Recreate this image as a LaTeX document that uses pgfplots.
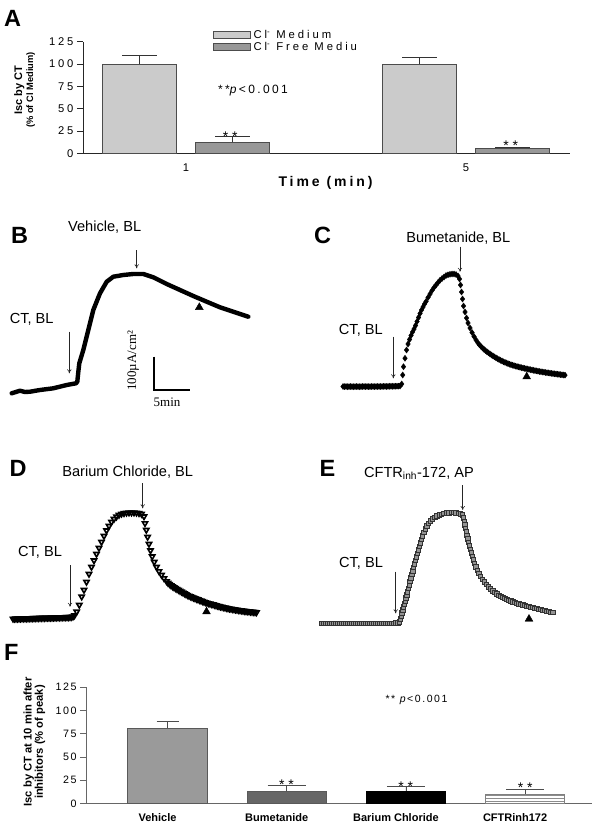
\documentclass[border=0pt]{standalone}
\usepackage{fontspec}
\setmainfont{Liberation Sans}
\newfontfamily\serifft{Liberation Serif}
\usepackage{pgfplots}
\pgfplotsset{compat=1.18}
\usetikzlibrary{patterns,arrows.meta}
\definecolor{ga}{HTML}{CBCBCB}
\definecolor{gb}{HTML}{989898}
\definecolor{gv}{HTML}{9A9A9A}
\definecolor{gbu}{HTML}{666666}
\newcommand\lbl{\fontsize{14.6}{16}\selectfont}
\newcommand\pl{\fontsize{23.5}{25}\selectfont\bfseries}
\pgfplotsset{
  errA/.style={error bars/.cd, y dir=plus, y explicit, error bar style={line width=0.8pt, black!80}, error mark options={rotate=90, mark size=17.5pt, line width=0.8pt, black!80}},
  errF/.style={error bars/.cd, y dir=plus, y explicit, error bar style={line width=0.8pt, black!70}, error mark options={rotate=90, mark size=#1, line width=0.8pt, black!70}},
}
\begin{document}
\begin{tikzpicture}[x=1pt,y=1pt]
% ---------------- Panel A ----------------
\begin{axis}[
  at={(83.3pt,675.7pt)}, anchor=south west, scale only axis,
  width=486.7pt, height=111.6pt,
  xmin=0.6332, xmax=2.371, ymin=0, ymax=125,
  axis lines=left, axis line style={-, line width=0.9pt, black!85},
  xtick={1,2}, xticklabels={1,5}, ytick={0,25,50,75,100,125},
  tick align=outside, major tick length=6.5pt,
  x tick style={draw=none}, y tick style={line width=0.8pt, black!85},
  yticklabel style={font=\fontsize{11.2}{13}\selectfont\addfontfeature{LetterSpace=24}},
  xticklabel style={font=\fontsize{11.2}{13}\selectfont},
  /pgf/number format/assume math mode=true,
  xlabel={Time (min)},
  xlabel style={font=\fontsize{14}{16}\selectfont\bfseries\addfontfeature{LetterSpace=21}, at={(axis description cs:0.4977,-0.266)}, anchor=center},
  ylabel={{\fontsize{11}{11}\selectfont\bfseries Isc by CT}\\{\fontsize{9.3}{11}\selectfont\bfseries (\% of Cl Medium)}},
  ylabel style={at={(axis description cs:-0.1208,0.567)}, anchor=center, align=center, font=\fontsize{11}{11}\selectfont},
  clip=false,
  legend style={at={(axis cs:1.0957,138.5)}, anchor=north west, draw=none, fill=none, inner sep=0pt, outer sep=0pt, row sep=1.2pt, column sep=2pt, font=\fontsize{11.3}{12.5}\selectfont\addfontfeature{LetterSpace=26}, nodes={inner sep=0.5pt}},
  legend cell align=left,
  legend image code/.code={\draw[#1,line width=0.8pt] (0pt,-3.8pt) rectangle (37.4pt,3.8pt);},
]
\addplot[ybar, bar width=0.2643, bar shift=0, fill=ga, draw=black!70, line width=0.8pt, errA]
  coordinates {(0.834,100) +- (0,9.5)};
\addlegendentry{Cl\textsuperscript{-} Medium}
\addplot[ybar, bar width=0.2643, bar shift=0, fill=gb, draw=black!70, line width=0.8pt, errA]
  coordinates {(1.1668,12.3) +- (0,6.7)};
\addlegendentry{Cl\textsuperscript{-} Free Mediu}
\addplot[forget plot, ybar, bar width=0.2643, bar shift=0, fill=ga, draw=black!70, line width=0.8pt, errA]
  coordinates {(1.834,100) +- (0,7)};
\addplot[forget plot, ybar, bar width=0.2643, bar shift=0, fill=gb, draw=black!70, line width=0.8pt, errA]
  coordinates {(2.1668,5.6) +- (0,1.3)};
\end{axis}
% ---------------- Panel F ----------------
\begin{axis}[
  at={(86.5pt,25.5pt)}, anchor=south west, scale only axis,
  width=505.5pt, height=116.2pt,
  xmin=0.3205, xmax=4.561, ymin=0, ymax=125,
  axis lines=left, axis line style={-, line width=0.9pt, black!60},
  xtick={1,2,3,4}, xticklabels={Vehicle,Bumetanide,Barium Chloride,CFTRinh172},
  ytick={0,25,50,75,100,125},
  tick align=outside, major tick length=6.5pt,
  x tick style={draw=none}, y tick style={line width=0.8pt, black!60},
  yticklabel style={font=\fontsize{10.7}{13}\selectfont\addfontfeature{LetterSpace=14}},
  xticklabel style={font=\fontsize{11}{13}\selectfont\bfseries, xshift=-10pt},
  /pgf/number format/assume math mode=true,
  ylabel={Isc by CT at 10 min after\\inhibitors (\% of peak)},
  ylabel style={at={(axis description cs:-0.1032,0.529)}, anchor=center, align=center, font=\fontsize{11.2}{11.3}\selectfont\bfseries},
  clip=false,
]
\addplot[ybar, bar width=0.667, bar shift=0, fill=gv, draw=black!65, line width=0.8pt, errF=11pt]
  coordinates {(1,81) +- (0,7.5)};
\addplot[ybar, bar width=0.667, bar shift=0, fill=gbu, draw=black!65, line width=0.8pt, errF=19pt]
  coordinates {(2,13) +- (0,6.5)};
\addplot[ybar, bar width=0.667, bar shift=0, fill=black, draw=black, line width=0.8pt, errF=19pt]
  coordinates {(3,13.5) +- (0,4.5)};
\addplot[ybar, bar width=0.667, bar shift=0, pattern=horizontal lines, pattern color=black!45, draw=black!50, line width=0.8pt, errF=19pt]
  coordinates {(4,10) +- (0,5.7)};
\end{axis}
% ---------------- Traces B-E and annotations (pixel units) ----------------
\begin{axis}[
  at={(0pt,0pt)}, anchor=south west, scale only axis,
  width=599pt, height=829pt,
  xmin=0, xmax=599, ymin=0, ymax=829, y dir=reverse,
  hide axis, clip=false,
]
% B: vehicle
\addplot[black, line width=4.4pt, line join=round, line cap=round] coordinates {
(11.7,393.3)(20,390.7)(25,392)(30,391.7)(40,390)(53.3,388.3)(66.7,385)(76,383.3)(77.3,381.7)(78.3,372)(79.3,363.3)(83.3,350)(88.3,330)(93.3,310)(100,293.3)(106.7,281.7)(113.3,276.7)(123.3,275)(133.3,274)(143.3,274)(153.3,277.3)(166.7,284)(180,290)(193.3,296)(206.7,301.7)(220,307.3)(233.3,311.7)(248.3,316.7)};
% C: bumetanide (diamonds)
\addplot[only marks, mark=diamond*, mark size=3pt, black] coordinates {
(343,386.5)(344.5,386.6)(346,386.5)(347.5,386.7)(349,386.6)(350.5,386.5)(352,386.6)(353.5,386.7)(355,386.6)(356.5,386.5)(358,386.6)(359.5,386.7)(361,386.6)(362.5,386.5)(364,386.5)(365.5,386.6)(367,386.5)(368.5,386.6)(370,386.6)(371.5,386.5)(373,386.5)(374.5,386.6)(376,386.5)(377.5,386.5)(379,386.5)(380.5,386.5)(382,386.5)(383.5,386.4)(385,386.4)(386.5,386.5)(388,386.4)(389.5,386.3)(391,386.3)(392.5,386.3)(394,386.3)(395.5,386.2)(397,386.2)(398.5,386.1)(400,386)
(401.7,384)(402.7,375)(403.5,366.7)(405,358.3)(406.5,350)(408,344)(409.5,339.5)(411,335.5)(412.5,332)(414,329)(415.5,325.5)(417,321.5)(418.5,317.5)(420,313.5)(421.5,310)(423,307)(424.5,304)(426,301.5)(428,297.5)(430,294)(432,290.5)(434,287.5)(436,285)(438,282.5)(440,280.3)(442,278.5)(444,277)(446,275.5)(448,274.8)(450,274.3)(452,274)(454,274)(456,274.5)(458,276)(459.5,279)
(460.5,285)(461.5,292)(462.5,299)(463.5,306)(465,312)(466.5,318)(468,323)(470,328)(472,332.5)(474,336.5)(476,340)
(478,343)(479.5,344.9)(481,346.5)(482.5,348)(484,349.4)(485.5,350.6)(487,351.8)(488.5,352.9)(490,354)(491.5,355)(493,356)(494.5,356.9)(496,357.8)(497.5,358.7)(499,359.5)(500.5,360.3)(502,361)(503.5,361.8)(505,362.4)(506.5,363)(508,363.6)(509.5,364.2)(511,364.7)(512.5,365.2)(514,365.6)(515.5,366.1)(517,366.5)(518.5,366.9)(520,367.3)(521.5,367.7)(523,368)(524.5,368.4)(526,368.7)(527.5,369)(529,369.4)(530.5,369.7)(532,370)(533.5,370.3)(535,370.6)(536.5,370.9)(538,371.2)(539.5,371.5)(541,371.7)(542.5,372)(544,372.2)(545.5,372.5)(547,372.7)(548.5,372.9)(550,373.2)(551.5,373.4)(553,373.6)(554.5,373.8)(556,374)(557.5,374.2)(559,374.4)(560.5,374.6)(562,374.8)(563.5,375)(565,375.1)};
% D: barium chloride (open down-triangles)
\addplot[only marks, mark=triangle, mark size=3pt, mark options={rotate=180, draw=black, line width=1.6pt}] coordinates {
(13,618.8)(14.5,618.8)(16,618.7)(17.5,618.7)(19,618.6)(20.5,618.6)(22,618.5)(23.5,618.5)(25,618.5)(26.5,618.4)(28,618.4)(29.5,618.3)(31,618.3)(32.5,618.2)(34,618.2)(35.5,618.1)(37,618.1)(38.5,618.1)(40,618)(41.5,618)(43,617.9)(44.5,617.9)(46,617.8)(47.5,617.8)(49,617.8)(50.5,617.7)(52,617.7)(53.5,617.6)(55,617.6)(56.5,617.5)(58,617.5)(59.5,617.4)(61,617.4)(62.5,617.3)(64,617.3)(65.5,617.2)(67,617.2)(68.5,617.2)(70,617.1)(71.5,617)(73,616.6)(74.5,615.5)
(76.7,611.7)(79.3,605)(81.7,596.7)(84,590)(86.5,582)(89,574)(91.5,567)(94,560.5)(96.5,554)(99,548)(101.5,542)(104,536)(106.5,530.5)(109,526)(111.5,522)(114,519)(116.5,516.7)(119,515)(121.5,513.8)(124,513.2)(126.5,512.8)(129,512.6)(131.5,512.6)(134,512.6)(136.5,512.8)(139,513.2)(141.5,514)(144,516.5)
(145,523.3)(146.3,530)(147.6,537)(149,544)(150.5,550.5)(152.2,556.5)(154.2,562)(156.5,567)(159,571.3)(161.5,575)(164,578.3)(166.5,581.3)
(168,583)(169.5,584.1)(171,585.4)(172.5,586.4)(174,587.3)(175.5,588.2)(177,589.1)(178.5,590)(180,590.9)(181.5,591.7)(183,592.6)(184.5,593.5)(186,594.3)(187.5,595.1)(189,595.8)(190.5,596.5)(192,597.1)(193.5,597.7)(195,598.3)(196.5,598.9)(198,599.5)(199.5,600.1)(201,600.6)(202.5,601.2)(204,601.8)(205.5,602.3)(207,602.8)(208.5,603.3)(210,603.7)(211.5,604.1)(213,604.5)(214.5,604.9)(216,605.4)(217.5,605.8)(219,606.2)(220.5,606.6)(222,606.9)(223.5,607.3)(225,607.6)(226.5,608)(228,608.3)(229.5,608.6)(231,608.8)(232.5,609.1)(234,609.3)(235.5,609.6)(237,609.8)(238.5,610.1)(240,610.3)(241.5,610.5)(243,610.8)(244.5,611)(246,611.2)(247.5,611.3)(249,611.5)(250.5,611.7)(252,611.9)(253.5,612)(255,612.2)(256.5,612.4)};
% E: CFTRinh-172 (grey squares)
\addplot[only marks, mark=square*, mark size=2.2pt, mark options={fill=black!42, draw=black!80, line width=0.7pt}] coordinates {
(322,623.3)(324,623.5)(326,623.2)(328,623.4)(330,623.3)(332,623.5)(334,623.2)(336,623.4)(338,623.3)(340,623.2)(342,623.4)(344,623.3)(346,623.5)(348,623.3)(350,623.2)(352,623.4)(354,623.3)(356,623.3)(358,623.2)(360,623.4)(362,623.3)(364,623.2)(366,623.3)(368,623.2)(370,623.4)(372,623.3)(374,623.3)(376,623.2)(378,623.4)(380,623.3)(382,623.2)(384,623.3)(386,623.2)(388,623.3)(390,623.2)(392,623.1)(394,623.1)(396,623)(398,622.8)
(399.5,622)(400.5,619)(401.3,616)(402,613)(402.8,610)(403.6,607)(404.4,604)(405.2,601)(406,598)(406.8,595)(407.6,592)(408.4,588.5)(409.2,585)(410,581.5)(410.9,578)(411.8,574.5)(412.7,571)(413.6,567.5)(414.5,564)(415.4,560.5)(416.3,557)(417.2,553.5)(418.1,550)(419.1,546.5)(420.1,543)(421.2,539.5)(422.4,536)(423.7,532.5)(425.1,529)(426.7,526)(428.5,523.2)(430.5,520.8)(432.6,518.8)(434.8,517.2)(437,516)(439.3,515)(441.6,514.2)(444,513.5)(446.4,513)(448.8,512.7)(451.2,512.6)(453.6,512.6)(456,512.8)(458.4,513.2)(460.6,514)(462.5,515)
(463.5,518)(464.2,521.5)(464.9,525)(465.6,528.5)(466.3,532)(467,535.5)(467.8,539)(468.6,542.5)(469.4,546)(470.3,549.5)(471.3,553)(472.3,556.5)(473.4,560)(474.6,563.5)(475.9,567)(477.3,570.3)(478.9,573.5)(480.6,576.5)(482.4,579.3)(484.3,582)(486.3,584.5)(488.4,586.8)(490.6,589)
(493,591)(495,592.5)(497,593.9)(499,595.1)(501,596.2)(503,597.3)(505,598.3)(507,599.2)(509,600.1)(511,600.9)(513,601.7)(515,602.4)(517,603.1)(519,603.7)(521,604.4)(523,605)(525,605.6)(527,606.1)(529,606.6)(531,607.1)(533,607.6)(535,608.1)(537,608.6)(539,609.1)(541,609.6)(543,610.1)(545,610.6)(547,611.1)(549,611.6)(551,612.1)(553,612.6)};
% 10-min markers
\addplot[only marks, mark=triangle*, mark size=4.5pt, black] coordinates {(199.3,307.3)(526.7,376.7)(206.5,611.7)(529,619)};
% scale bar
\addplot[black, line width=1.5pt] coordinates {(154,356.7)(154,390)(190,390)};
% arrows
\draw[-{To[length=4pt,width=4.5pt]}, line width=0.6pt, black!85] (axis cs:136.7,250) -- (axis cs:136.7,268.3);
\draw[-{To[length=4pt,width=4.5pt]}, line width=0.6pt, black!85] (axis cs:69.3,331.7) -- (axis cs:69.3,373.3);
\draw[-{To[length=4pt,width=4.5pt]}, line width=0.6pt, black!85] (axis cs:460,246.7) -- (axis cs:460,271.7);
\draw[-{To[length=4pt,width=4.5pt]}, line width=0.6pt, black!85] (axis cs:393.3,336.7) -- (axis cs:393.3,378.3);
\draw[-{To[length=4pt,width=4.5pt]}, line width=0.6pt, black!85] (axis cs:142.7,483.3) -- (axis cs:142.7,508.3);
\draw[-{To[length=4pt,width=4.5pt]}, line width=0.6pt, black!85] (axis cs:70,565) -- (axis cs:70,606.7);
\draw[-{To[length=4pt,width=4.5pt]}, line width=0.6pt, black!85] (axis cs:462.7,485) -- (axis cs:462.7,510);
\draw[-{To[length=4pt,width=4.5pt]}, line width=0.6pt, black!85] (axis cs:395.7,571.7) -- (axis cs:395.7,613.3);
% panel letters
\node[anchor=base west, inner sep=0, font=\pl] at (axis cs:4,27) {A};
\node[anchor=base west, inner sep=0, font=\pl] at (axis cs:11,243.3) {B};
\node[anchor=base west, inner sep=0, font=\pl] at (axis cs:314,243.3) {C};
\node[anchor=base west, inner sep=0, font=\pl] at (axis cs:9.5,476.5) {D};
\node[anchor=base west, inner sep=0, font=\pl] at (axis cs:319.5,476.7) {E};
\node[anchor=base west, inner sep=0, font=\pl] at (axis cs:4,660) {F};
% labels
\node[anchor=base, inner sep=0, font=\lbl] at (axis cs:104.7,231.5) {Vehicle, BL};
\node[anchor=base, inner sep=0, font=\lbl] at (axis cs:31.7,323.5) {CT, BL};
\node[anchor=base, inner sep=0, font=\lbl] at (axis cs:458.3,242.5) {Bumetanide, BL};
\node[anchor=base, inner sep=0, font=\lbl] at (axis cs:360.8,334.3) {CT, BL};
\node[anchor=base, inner sep=0, font=\lbl] at (axis cs:127.7,476) {Barium Chloride, BL};
\node[anchor=base, inner sep=0, font=\lbl] at (axis cs:40,556.3) {CT, BL};
\node[anchor=base, inner sep=0, font=\lbl] at (axis cs:419,477) {CFTR\textsubscript{inh}-172, AP};
\node[anchor=base, inner sep=0, font=\lbl] at (axis cs:361,567.5) {CT, BL};
\node[rotate=90, anchor=center, inner sep=0, font=\serifft\fontsize{13}{14}\selectfont] at (axis cs:133.3,360.8) {100µA/cm²};
\node[anchor=base, inner sep=0, font=\serifft\fontsize{13}{14}\selectfont] at (axis cs:167,406) {5min};
% significance
\node[anchor=base, inner sep=0, font=\fontsize{14}{15}\selectfont] at (axis cs:230.2,141.3) {* *};
\node[anchor=base, inner sep=0, font=\fontsize{14}{15}\selectfont] at (axis cs:510.8,150.7) {* *};
\node[anchor=base, inner sep=0, font=\fontsize{14}{15}\selectfont] at (axis cs:286.5,789.7) {* *};
\node[anchor=base, inner sep=0, font=\fontsize{14}{15}\selectfont] at (axis cs:405.8,791.3) {* *};
\node[anchor=base, inner sep=0, font=\fontsize{14}{15}\selectfont] at (axis cs:525.3,792.7) {* *};
\node[anchor=base, inner sep=0, font=\fontsize{12}{13}\selectfont\addfontfeature{LetterSpace=20}] at (axis cs:253,93.3) {**\textit{p}<0.001};
\node[anchor=base, inner sep=0, font=\fontsize{10.5}{12}\selectfont\addfontfeature{LetterSpace=15}] at (axis cs:416.5,702.5) {** \textit{p}<0.001};
\end{axis}
\pgfresetboundingbox
\useasboundingbox (0,0) rectangle (599,829);
\end{tikzpicture}
\end{document}
